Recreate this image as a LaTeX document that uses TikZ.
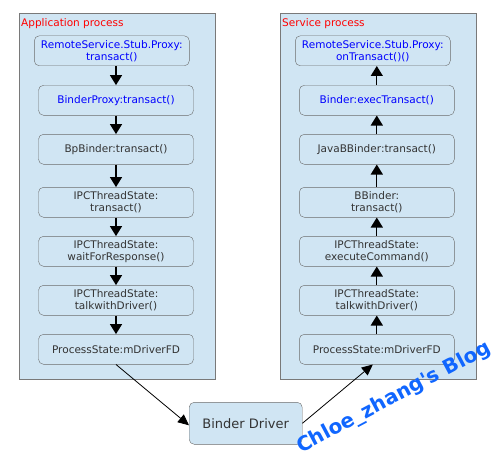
\documentclass[tikz,border=0pt]{standalone}
\usepackage{fontspec}
\setmainfont{DejaVu Sans}
\usetikzlibrary{arrows.meta,positioning}

\begin{document}
\begin{tikzpicture}[x=1pt, y=-1pt, >={Triangle[width=12pt,length=10pt]}, font=\fontsize{10.5}{12}\selectfont,
		container/.style={draw=gray!95!black, fill=paleblue, inner sep=0pt, minimum width=196.5pt, minimum height=366pt},
		proc/.style={draw=gray!85!black, fill=paleblue, rounded corners=5pt, inner sep=0pt, minimum width=155pt, minimum height=30pt, align=center, text=darktext},
		javaproc/.style={proc, text=blue},
		grouplabel/.style={anchor=base west, inner sep=0pt, text=red},
		call/.style={->, line width=1.3pt},
		ioctl/.style={-{Triangle[width=10pt,length=11pt]}, line width=0.8pt}]
			\definecolor{paleblue}{RGB}{208, 229, 243}
			\definecolor{darktext}{RGB}{51, 51, 51}
			\definecolor{blogblue}{RGB}{16, 102, 255}
			\useasboundingbox (0,0) rectangle (501,460);
			\node[container] (app) at (117.25,196) {};
			\node[container] (svc) at (378.25,196) {};
			\node[grouplabel] (applabel) at (21,26.5) {Application process};
			\node[grouplabel] (svclabel) at (282,26.5) {Service process};
			\node[javaproc] (stub) at (111.8,50.8) {RemoteService.Stub.Proxy:\\transact()};
			\node[javaproc] (bproxy) at (116,100.3) {BinderProxy:transact()};
			\node[proc] (bp) at (116,149.3) {BpBinder:transact()};
			\node[proc] (ipctr) at (116,202.3) {IPCThreadState:\\transact()};
			\node[proc] (ipcwait) at (116,251.3) {IPCThreadState:\\waitForResponse()};
			\node[proc] (ipctalk) at (116,300.3) {IPCThreadState:\\talkwithDriver()};
			\node[proc] (psapp) at (116,349.3) {ProcessState:mDriverFD};
			\node[javaproc] (onstub) at (372.8,50.8) {RemoteService.Stub.Proxy:\\onTransact()()};
			\node[javaproc] (exectr) at (376.8,100.3) {Binder:execTransact()};
			\node[proc] (jbb) at (376.8,149.3) {JavaBBinder:transact()};
			\node[proc] (bb) at (376.8,202.3) {BBinder:\\transact()};
			\node[proc] (ipcexec) at (376.8,251.3) {IPCThreadState:\\executeCommand()};
			\node[proc] (svctalk) at (376.8,300.3) {IPCThreadState:\\talkwithDriver()};
			\node[proc] (pssvc) at (376.8,349.3) {ProcessState:mDriverFD};
			\node[proc, minimum width=113pt, minimum height=42pt, font=\fontsize{13}{15}\selectfont] (driver) at (245.7,423.3) {Binder Driver};
			\draw[call] (stub.south -| bproxy.north) -- (bproxy.north);
			\draw[call] (bproxy) -- (bp);
			\draw[call] (bp) -- (ipctr);
			\draw[call] (ipctr) -- (ipcwait);
			\draw[call] (ipcwait) -- (ipctalk);
			\draw[call] (ipctalk) -- (psapp);
			\draw[call] (pssvc) -- (svctalk);
			\draw[call] (svctalk) -- (ipcexec);
			\draw[call] (ipcexec) -- (bb);
			\draw[call] (bb) -- (jbb);
			\draw[call] (jbb) -- (exectr);
			\draw[call] (exectr.north) -- (exectr.north |- onstub.south);
			\draw[ioctl] (psapp.south) -- ([yshift=-2pt]driver.west);
			\draw[ioctl] (driver.east) -- ([xshift=-4pt]pssvc.south);
			\node[rotate=28, text=blogblue, font=\fontsize{20}{24}\selectfont\bfseries] (blog) at (394,398) {Chloe\_zhang\textquotesingle s Blog};
		\end{tikzpicture}
\end{document}
